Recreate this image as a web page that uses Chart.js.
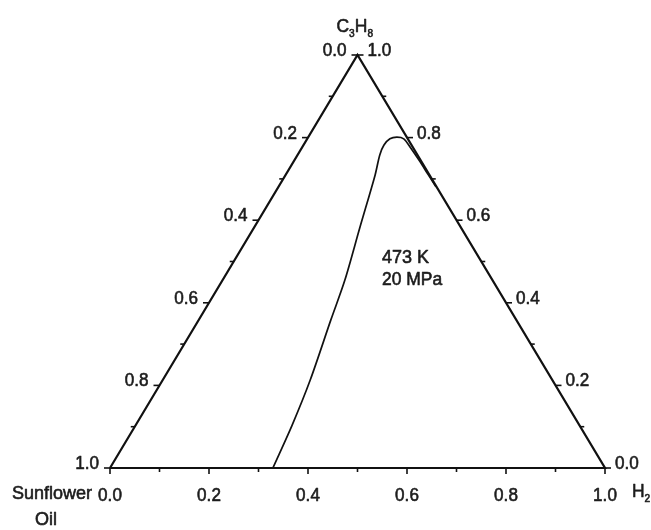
<!DOCTYPE html>
<html>
<head>
<meta charset="utf-8">
<script src="https://cdn.jsdelivr.net/npm/chart.js@4/dist/chart.umd.min.js"></script>
<style>
  html, body { margin: 0; padding: 0; background: #fff; }
  #wrap { width: 651px; height: 530px; position: relative; }
</style>
</head>
<body>
<div id="wrap"><canvas id="c" width="651" height="530"></canvas></div>
<script>
// ---- Data (ternary fractions) ----
const components = ['Sunflower Oil', 'C3H8', 'H2'];
const tickFractions = [0, 0.1, 0.2, 0.3, 0.4, 0.5, 0.6, 0.7, 0.8, 0.9, 1.0];
const tickLabelValues = [0, 0.2, 0.4, 0.6, 0.8, 1.0];
const tickLabels = ['0.0', '0.2', '0.4', '0.6', '0.8', '1.0'];
// Phase boundary at 473 K / 20 MPa: mole fractions of H2 and C3H8
const boundaryH2   = [0.329, 0.316, 0.298, 0.267, 0.247, 0.214, 0.181, 0.166, 0.1625, 0.167, 0.179, 0.195, 0.220, 0.252, 0.287, 0.318];
const boundaryC3H8 = [0.000, 0.104, 0.213, 0.358, 0.455, 0.581, 0.709, 0.758, 0.782, 0.797, 0.801, 0.797, 0.775, 0.745, 0.711, 0.681];
const annotationLines = ['473 K', '20 MPa'];
const annotationAt = { h2: 0.294, c3h8: 0.511 };

// ternary (H2, C3H8) -> cartesian plot coordinates
const toXY = (h, c) => ({ x: h + c / 2, y: c });

const framePoints = [toXY(0, 0), toXY(1, 0), toXY(0, 1), toXY(0, 0)];
const curvePoints = boundaryH2.map((h, i) => toXY(h, boundaryC3H8[i]));

const FONT = '"Liberation Sans", Arial, sans-serif';
const INK = '#1c1c1c';

function drawText(ctx, text, x, y, align, size, sx) {
  ctx.save();
  ctx.font = size + 'px ' + FONT;
  ctx.textBaseline = 'alphabetic';
  const w = ctx.measureText(text).width * sx;
  let left = x;
  if (align === 'right') left = x - w;
  else if (align === 'center') left = x - w / 2;
  ctx.translate(left, y);
  ctx.scale(sx, 1);
  ctx.textAlign = 'left';
  ctx.fillStyle = INK;
  ctx.strokeStyle = INK;
  ctx.lineWidth = 0.6;
  ctx.lineJoin = 'round';
  ctx.fillText(text, 0, 0);
  ctx.strokeText(text, 0, 0);
  ctx.restore();
  return w;
}

// draws formula parts: [[text, isSub], ...]
function drawFormula(ctx, parts, x, y, size, subSize) {
  let cx = x;
  parts.forEach(([t, sub]) => {
    cx += drawText(ctx, t, cx, sub ? y + 5 : y, 'left', sub ? subSize : size, 0.92);
  });
}

const ternaryAxes = {
  id: 'ternaryAxes',
  afterDatasetsDraw(chart) {
    const { ctx, scales: { x, y } } = chart;
    const P = (h, c) => { const q = toXY(h, c); return [x.getPixelForValue(q.x), y.getPixelForValue(q.y)]; };
    ctx.save();
    ctx.strokeStyle = '#111';
    ctx.lineWidth = 1.6;
    ctx.lineCap = 'butt';
    const seg = (x1, y1, x2, y2) => { ctx.beginPath(); ctx.moveTo(x1, y1); ctx.lineTo(x2, y2); ctx.stroke(); };
    tickFractions.forEach((t, i) => {
      const L = (i % 2 === 0) ? 6 : 4;
      let [bx, by] = P(t, 0);           // bottom: H2 = t
      seg(bx, by, bx, by + L);
      let [lx, ly] = P(0, 1 - t);       // left: oil = t
      seg(lx, ly, lx - L, ly);
      let [rx, ry] = P(1 - t, t);       // right: C3H8 = t
      seg(rx, ry, rx + L, ry);
    });
    tickLabelValues.forEach((t, i) => {
      const lab = tickLabels[i];
      let [bx, by] = P(t, 0);
      drawText(ctx, lab, bx, by + 33, 'center', 18, 0.95);
      let [lx, ly] = P(0, 1 - t);
      drawText(ctx, lab, lx - 11, ly + 1, 'right', 18, 0.95);
      let [rx, ry] = P(1 - t, t);
      drawText(ctx, lab, rx + 10, ry + 1, 'left', 18, 0.95);
    });
    // component names at the vertices
    const [tx, ty] = P(0, 1);
    drawFormula(ctx, [['C', false], ['3', true], ['H', false], ['8', true]], tx - 21, ty - 23, 19, 11);
    const [rx0, ry0] = P(1, 0);
    drawFormula(ctx, [['H', false], ['2', true]], rx0 + 27, ry0 + 29, 19, 11);
    const [lx0, ly0] = P(0, 0);
    drawText(ctx, 'Sunflower', lx0 - 18, ly0 + 31, 'right', 18, 1);
    drawText(ctx, 'Oil', lx0 - 64, ly0 + 57, 'center', 18, 1);
    // annotation
    const [ax, ay] = P(annotationAt.h2, annotationAt.c3h8);
    drawText(ctx, annotationLines[0], ax, ay + 6, 'left', 18, 1);
    drawText(ctx, annotationLines[1], ax, ay + 28, 'left', 18, 0.97);
    ctx.restore();
  }
};

new Chart(document.getElementById('c'), {
  type: 'scatter',
  data: {
    datasets: [
      {
        label: 'frame',
        data: framePoints,
        showLine: true,
        borderColor: '#111',
        borderWidth: 2.2,
        pointRadius: 0,
        tension: 0,
        clip: false
      },
      {
        label: 'boundary',
        data: curvePoints,
        showLine: true,
        borderColor: '#111',
        borderWidth: 1.7,
        pointRadius: 0,
        tension: 0.3,
        clip: false
      }
    ]
  },
  options: {
    responsive: false,
    animation: false,
    devicePixelRatio: 1,
    layout: { padding: { left: 110, right: 46, top: 55, bottom: 62 } },
    scales: {
      x: { type: 'linear', min: 0, max: 1, display: false },
      y: { type: 'linear', min: 0, max: 1, display: false }
    },
    plugins: { legend: { display: false }, tooltip: { enabled: false } }
  },
  plugins: [ternaryAxes]
});
</script>
</body>
</html>
